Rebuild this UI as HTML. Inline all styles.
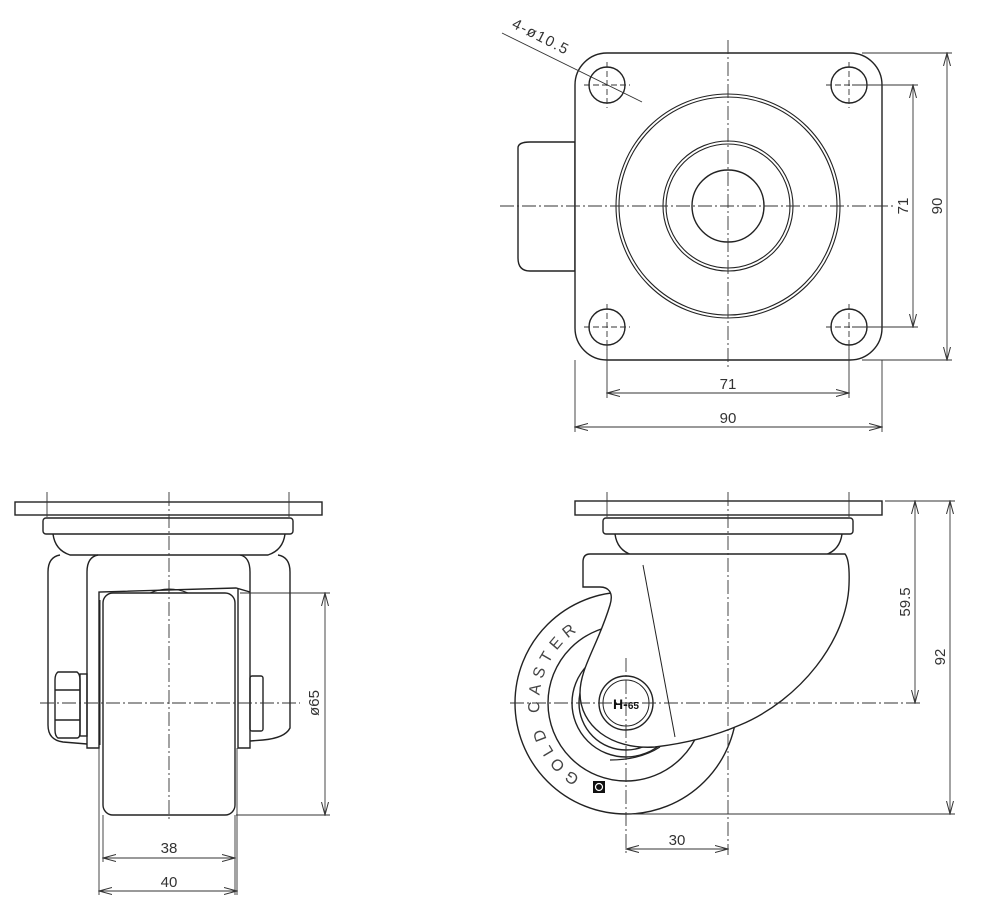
<!DOCTYPE html>
<html><head><meta charset="utf-8"><style>
html,body{margin:0;padding:0;background:#fff}
svg{display:block}
text{font-family:"Liberation Sans",sans-serif;fill:#333}
</style></head><body>
<svg width="1000" height="904" viewBox="0 0 1000 904" xmlns="http://www.w3.org/2000/svg">
<defs>
<marker id="a" markerWidth="14" markerHeight="8" refX="13" refY="4" orient="auto-start-reverse" markerUnits="userSpaceOnUse"><path d="M0,0.5 L13,4 L0,7.5" fill="none" stroke="#333" stroke-width="1"/></marker>
</defs>
<g fill="none" stroke="#222" stroke-width="1.4">
<!-- TOP VIEW -->
<path d="M518,148 Q518,142 530,142 L575,142 L575,271 L530,271 Q518,271 518,258 Z" />
<rect x="575" y="53" width="307" height="307" rx="32" fill="#fff"/>
<circle cx="607" cy="85" r="18"/><circle cx="849" cy="85" r="18"/>
<circle cx="607" cy="327" r="18"/><circle cx="849" cy="327" r="18"/>
<circle cx="728" cy="206" r="112" stroke-width="1.1"/><circle cx="728" cy="206" r="109" stroke-width="1.1"/>
<circle cx="728" cy="206" r="65" stroke-width="1.1"/><circle cx="728" cy="206" r="62" stroke-width="1.1"/>
<circle cx="728" cy="206" r="36"/>
</g>
<g fill="none" stroke="#333" stroke-width="0.9" stroke-dasharray="14,3,2,3">
<line x1="500" y1="206" x2="895" y2="206"/><line x1="728" y1="40" x2="728" y2="368"/>
</g>
<g fill="none" stroke="#333" stroke-width="0.9" stroke-dasharray="6,3">
<line x1="584" y1="85" x2="630" y2="85"/><line x1="607" y1="62" x2="607" y2="108"/>
<line x1="826" y1="85" x2="872" y2="85"/><line x1="849" y1="62" x2="849" y2="108"/>
<line x1="584" y1="327" x2="630" y2="327"/><line x1="607" y1="304" x2="607" y2="350"/>
<line x1="826" y1="327" x2="872" y2="327"/><line x1="849" y1="304" x2="849" y2="350"/>
</g>
<g fill="none" stroke="#333" stroke-width="0.9">
<line x1="502" y1="33" x2="642" y2="102"/>
<line x1="852" y1="85" x2="918" y2="85"/><line x1="852" y1="327" x2="918" y2="327"/>
<line x1="862" y1="53" x2="952" y2="53"/><line x1="862" y1="360" x2="952" y2="360"/>
<line x1="913" y1="85" x2="913" y2="327" marker-start="url(#a)" marker-end="url(#a)"/>
<line x1="947" y1="53" x2="947" y2="360" marker-start="url(#a)" marker-end="url(#a)"/>
<line x1="607" y1="345" x2="607" y2="398"/><line x1="849" y1="345" x2="849" y2="398"/>
<line x1="575" y1="360" x2="575" y2="432"/><line x1="882" y1="360" x2="882" y2="432"/>
<line x1="607" y1="393" x2="849" y2="393" marker-start="url(#a)" marker-end="url(#a)"/>
<line x1="575" y1="427" x2="882" y2="427" marker-start="url(#a)" marker-end="url(#a)"/>
</g>
<text x="511" y="27" font-size="15" letter-spacing="1.5" transform="rotate(27 511 27)">4-ø10.5</text>
<text x="728" y="389" font-size="15" text-anchor="middle">71</text>
<text x="728" y="423" font-size="15" text-anchor="middle">90</text>
<text x="908" y="206" font-size="15" text-anchor="middle" transform="rotate(-90 908 206)">71</text>
<text x="942" y="206" font-size="15" text-anchor="middle" transform="rotate(-90 942 206)">90</text>

<!-- BOTTOM LEFT VIEW -->
<g fill="none" stroke="#222" stroke-width="1.4">
<rect x="15" y="502" width="307" height="13"/>
<rect x="43" y="518" width="250" height="16" rx="3"/>
<path d="M53,534 Q55,550 70,555 L268,555 Q283,550 285,534"/>
<path d="M60,555 Q48,557 48,572 L48,725 Q48,740 63,742 L87,744"/>
<path d="M278,555 Q290,557 290,572 L290,728 Q285,738 263,740 L250,741"/>
<path d="M98,555 Q87,557 87,572 L87,748 L99,748 L99,592 L236,588 L250,592 L250,748 L238,748 L238,588 M240,555 Q250,557 250,572 L250,592"/>
<rect x="103" y="593" width="132" height="222" rx="10" fill="#fff"/>
<line x1="100" y1="600" x2="100" y2="745" stroke-width="1"/><line x1="238" y1="600" x2="238" y2="745" stroke-width="1"/>
<path d="M150,593 Q169,585 188,593" stroke-width="1"/>
<path d="M58,672 L77,672 Q80,674 80,680 L80,732 Q80,738 77,738 L58,738 Q55,736 55,730 L55,680 Q55,674 58,672 Z"/>
<line x1="55" y1="690" x2="80" y2="690"/><line x1="55" y1="720" x2="80" y2="720"/>
<rect x="80" y="674" width="7" height="62"/>
<rect x="250" y="676" width="13" height="55" rx="2"/>
</g>
<g fill="none" stroke="#333" stroke-width="0.9" stroke-dasharray="14,3,2,3">
<line x1="40" y1="703" x2="300" y2="703"/><line x1="169" y1="492" x2="169" y2="822"/>
</g>
<g fill="none" stroke="#333" stroke-width="0.9">
<line x1="47" y1="492" x2="47" y2="517"/><line x1="289" y1="492" x2="289" y2="517"/>
<line x1="240" y1="593" x2="330" y2="593"/><line x1="236" y1="815" x2="330" y2="815"/>
<line x1="325" y1="593" x2="325" y2="815" marker-start="url(#a)" marker-end="url(#a)"/>
<line x1="103" y1="815" x2="103" y2="862"/><line x1="235" y1="815" x2="235" y2="895"/>
<line x1="99" y1="748" x2="99" y2="895"/><line x1="237" y1="748" x2="237" y2="895"/>
<line x1="103" y1="858" x2="235" y2="858" marker-start="url(#a)" marker-end="url(#a)"/>
<line x1="99" y1="891" x2="237" y2="891" marker-start="url(#a)" marker-end="url(#a)"/>
</g>
<text x="169" y="853" font-size="15" text-anchor="middle">38</text>
<text x="169" y="887" font-size="15" text-anchor="middle">40</text>
<text x="319" y="703" font-size="15" text-anchor="middle" transform="rotate(-90 319 703)">ø65</text>

<!-- BOTTOM RIGHT VIEW -->
<g fill="none" stroke="#222" stroke-width="1.4">
<rect x="575" y="501" width="307" height="14"/>
<rect x="603" y="518" width="250" height="16" rx="3"/>
<path d="M615,534 Q617,550 632,555 L825,555 Q840,550 842,534"/>
<circle cx="626" cy="703" r="111"/>
<circle cx="626" cy="703" r="78"/>
<circle cx="626" cy="703" r="54"/>
<circle cx="626" cy="703" r="47"/>
<path d="M590,554 L845,554 Q850,560 849,585 C847,640 800,700 740,725 C710,738 680,744 655,747 C610,750 580,725 580,693 C580,668 598,645 610,605 C614,592 608,587 600,587 L583,587 L583,562 Q583,554 590,554 Z" fill="#fff"/>
<path d="M660,747 Q640,760 610,760" stroke-width="1.2"/>
<circle cx="626" cy="703" r="27"/>
<circle cx="626" cy="703" r="23" stroke-width="1"/>
<line x1="643" y1="565" x2="675" y2="737" stroke-width="1"/>
</g>
<g fill="none" stroke="#333" stroke-width="0.9" stroke-dasharray="14,3,2,3">
<line x1="510" y1="703" x2="920" y2="703"/><line x1="728" y1="492" x2="728" y2="855"/>
<line x1="626" y1="658" x2="626" y2="855"/>
</g>
<g fill="none" stroke="#333" stroke-width="0.9">
<line x1="607" y1="492" x2="607" y2="517"/><line x1="849" y1="492" x2="849" y2="517"/>
<line x1="885" y1="501" x2="955" y2="501"/>
<line x1="626" y1="814" x2="955" y2="814"/>
<line x1="915" y1="501" x2="915" y2="703" marker-start="url(#a)" marker-end="url(#a)"/>
<line x1="950" y1="501" x2="950" y2="814" marker-start="url(#a)" marker-end="url(#a)"/>
<line x1="626" y1="849" x2="728" y2="849" marker-start="url(#a)" marker-end="url(#a)"/>
</g>
<path id="arc" d="M580,777 A87,87 0 0 1 582.5,628" fill="none"/>
<text font-size="16" style="fill:#444"><textPath href="#arc" textLength="172" lengthAdjust="spacing">GOLD CASTER</textPath></text>
<text x="626" y="709" font-size="14" font-weight="bold" text-anchor="middle" style="fill:#111">H-<tspan font-size="10">65</tspan></text>
<rect x="593" y="781" width="12" height="12" fill="#111"/>
<circle cx="599" cy="787" r="3.5" fill="none" stroke="#fff" stroke-width="1.2"/>
<text x="677" y="845" font-size="15" text-anchor="middle">30</text>
<text x="910" y="602" font-size="15" text-anchor="middle" transform="rotate(-90 910 602)">59.5</text>
<text x="945" y="657" font-size="15" text-anchor="middle" transform="rotate(-90 945 657)">92</text>
</svg>
</body></html>
